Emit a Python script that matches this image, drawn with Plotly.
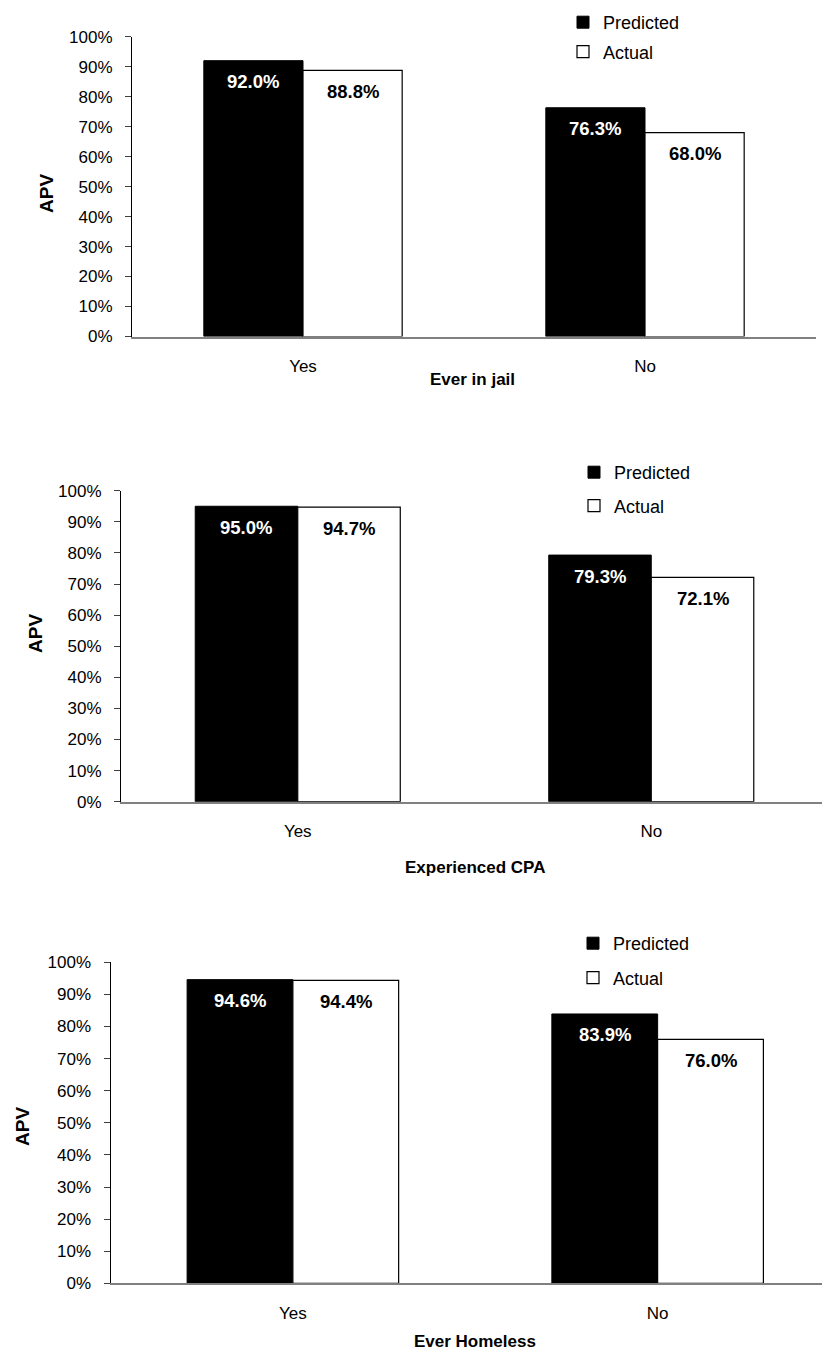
import plotly.graph_objects as go

categories = ["Yes", "No"]
chart_titles = ["Ever in jail", "Experienced CPA", "Ever Homeless"]
predicted_jail = [0.920, 0.763]
actual_jail = [0.888, 0.680]
predicted_cpa = [0.950, 0.793]
actual_cpa = [0.947, 0.721]
predicted_homeless = [0.946, 0.839]
actual_homeless = [0.944, 0.760]
y_ticks = [0, 0.1, 0.2, 0.3, 0.4, 0.5, 0.6, 0.7, 0.8, 0.9, 1.0]
y_tick_labels = ["0%", "10%", "20%", "30%", "40%", "50%", "60%", "70%", "80%", "90%", "100%"]

# The page body has an 8px default margin; size the figure so it fits the window.
PAD = 8
W, H = 830 - 2 * PAD, 1360 - 2 * PAD
FONT = "Liberation Sans, Arial, sans-serif"
BARGAP = 0.42


def fx(x):  # window pixel -> paper x
    return (x - PAD) / W


def fy(y):  # window pixel -> paper y
    return 1 - (y - PAD) / H


panels = [
    dict(pred=predicted_jail, act=actual_jail, x0=132, x1=816, xr=[-0.5, 1.5],
         ytop=36.7, ybot=336.5, leg_x=563, leg_y=22, leg_gap=3,
         apv=(46, 194), xt=(472, 379)),
    dict(pred=predicted_cpa, act=actual_cpa, x0=121, x1=828, xr=[-0.5, 1.5],
         ytop=490.7, ybot=801.7, leg_x=574, leg_y=472, leg_gap=7,
         apv=(35, 633), xt=(475, 868)),
    dict(pred=predicted_homeless, act=actual_homeless, x0=110.5, x1=840, xr=[-0.5, 1.5],
         ytop=962.3, ybot=1283.3, leg_x=573, leg_y=943, leg_gap=8,
         apv=(22, 1127), xt=(475, 1341)),
]

fig = go.Figure()
annotations = []
layout = {}
off = (1 - BARGAP) / 4

for i, p in enumerate(panels):
    n = "" if i == 0 else str(i + 1)
    leg = "legend" + n
    fig.add_trace(go.Bar(
        x=categories, y=p["pred"], name="Predicted",
        marker=dict(color="black", line=dict(color="black", width=1)),
        xaxis="x" + n, yaxis="y" + n, legend=leg, legendgroup="p" + n,
        hoverinfo="skip"))
    fig.add_trace(go.Bar(
        x=categories, y=p["act"], name="Actual",
        marker=dict(color="white", line=dict(color="black", width=1.2)),
        xaxis="x" + n, yaxis="y" + n, legend=leg, legendgroup="a" + n,
        hoverinfo="skip"))

    # clip the right end to the figure while keeping the category spacing
    x1 = min(p["x1"], 830 - PAD)
    span = p["xr"][1] - p["xr"][0]
    xr_end = p["xr"][0] + span * (x1 - p["x0"]) / (p["x1"] - p["x0"])
    layout["xaxis" + n] = dict(
        domain=[fx(p["x0"]), min(fx(x1), 1)], range=[p["xr"][0], xr_end],
        anchor="y" + n, type="category", showline=True, linecolor="#808080",
        linewidth=2, ticks="", showgrid=False, zeroline=False,
        tickfont=dict(family=FONT, size=17, color="black"),
        ticklabelstandoff=13, automargin=False)
    layout["yaxis" + n] = dict(
        domain=[fy(p["ybot"]), fy(p["ytop"])], range=[0, 1],
        anchor="x" + n, showline=True, linecolor="black", linewidth=1,
        ticks="outside", ticklen=6, tickcolor="#404040", tickwidth=1,
        tickvals=y_ticks, ticktext=y_tick_labels, showgrid=False,
        zeroline=False, tickfont=dict(family=FONT, size=17, color="black"),
        ticklabelstandoff=9, automargin=False)
    layout[leg] = dict(
        x=fx(p["leg_x"]), xanchor="left",
        y=fy(p["leg_y"] - 18), yanchor="top",
        bgcolor="rgba(0,0,0,0)", font=dict(family=FONT, size=18, color="black"),
        tracegroupgap=p["leg_gap"], traceorder="grouped")

    for j, c in enumerate(categories):
        for vals, sign, col in ((p["pred"], -1, "white"), (p["act"], 1, "black")):
            annotations.append(dict(
                x=j + sign * off, y=vals[j], xref="x" + n, yref="y" + n,
                text="<b>%.1f%%</b>" % (vals[j] * 100), showarrow=False,
                yanchor="middle", yshift=-21,
                font=dict(family=FONT, size=18.5, color=col)))

    annotations.append(dict(
        x=fx(p["apv"][0]), y=fy(p["apv"][1]), xref="paper", yref="paper",
        text="<b>APV</b>", textangle=-90, showarrow=False,
        xanchor="center", yanchor="middle",
        font=dict(family=FONT, size=19, color="black")))
    annotations.append(dict(
        x=fx(p["xt"][0]), y=fy(p["xt"][1]), xref="paper", yref="paper",
        text="<b>%s</b>" % chart_titles[i], showarrow=False,
        xanchor="center", yanchor="middle",
        font=dict(family=FONT, size=17, color="black")))

fig.update_layout(
    width=W, height=H, margin=dict(l=0, r=0, t=0, b=0, autoexpand=False),
    paper_bgcolor="white", plot_bgcolor="white",
    barmode="group", bargap=BARGAP, bargroupgap=0,
    showlegend=True, annotations=annotations, **layout)

fig.write_html("out.html")
